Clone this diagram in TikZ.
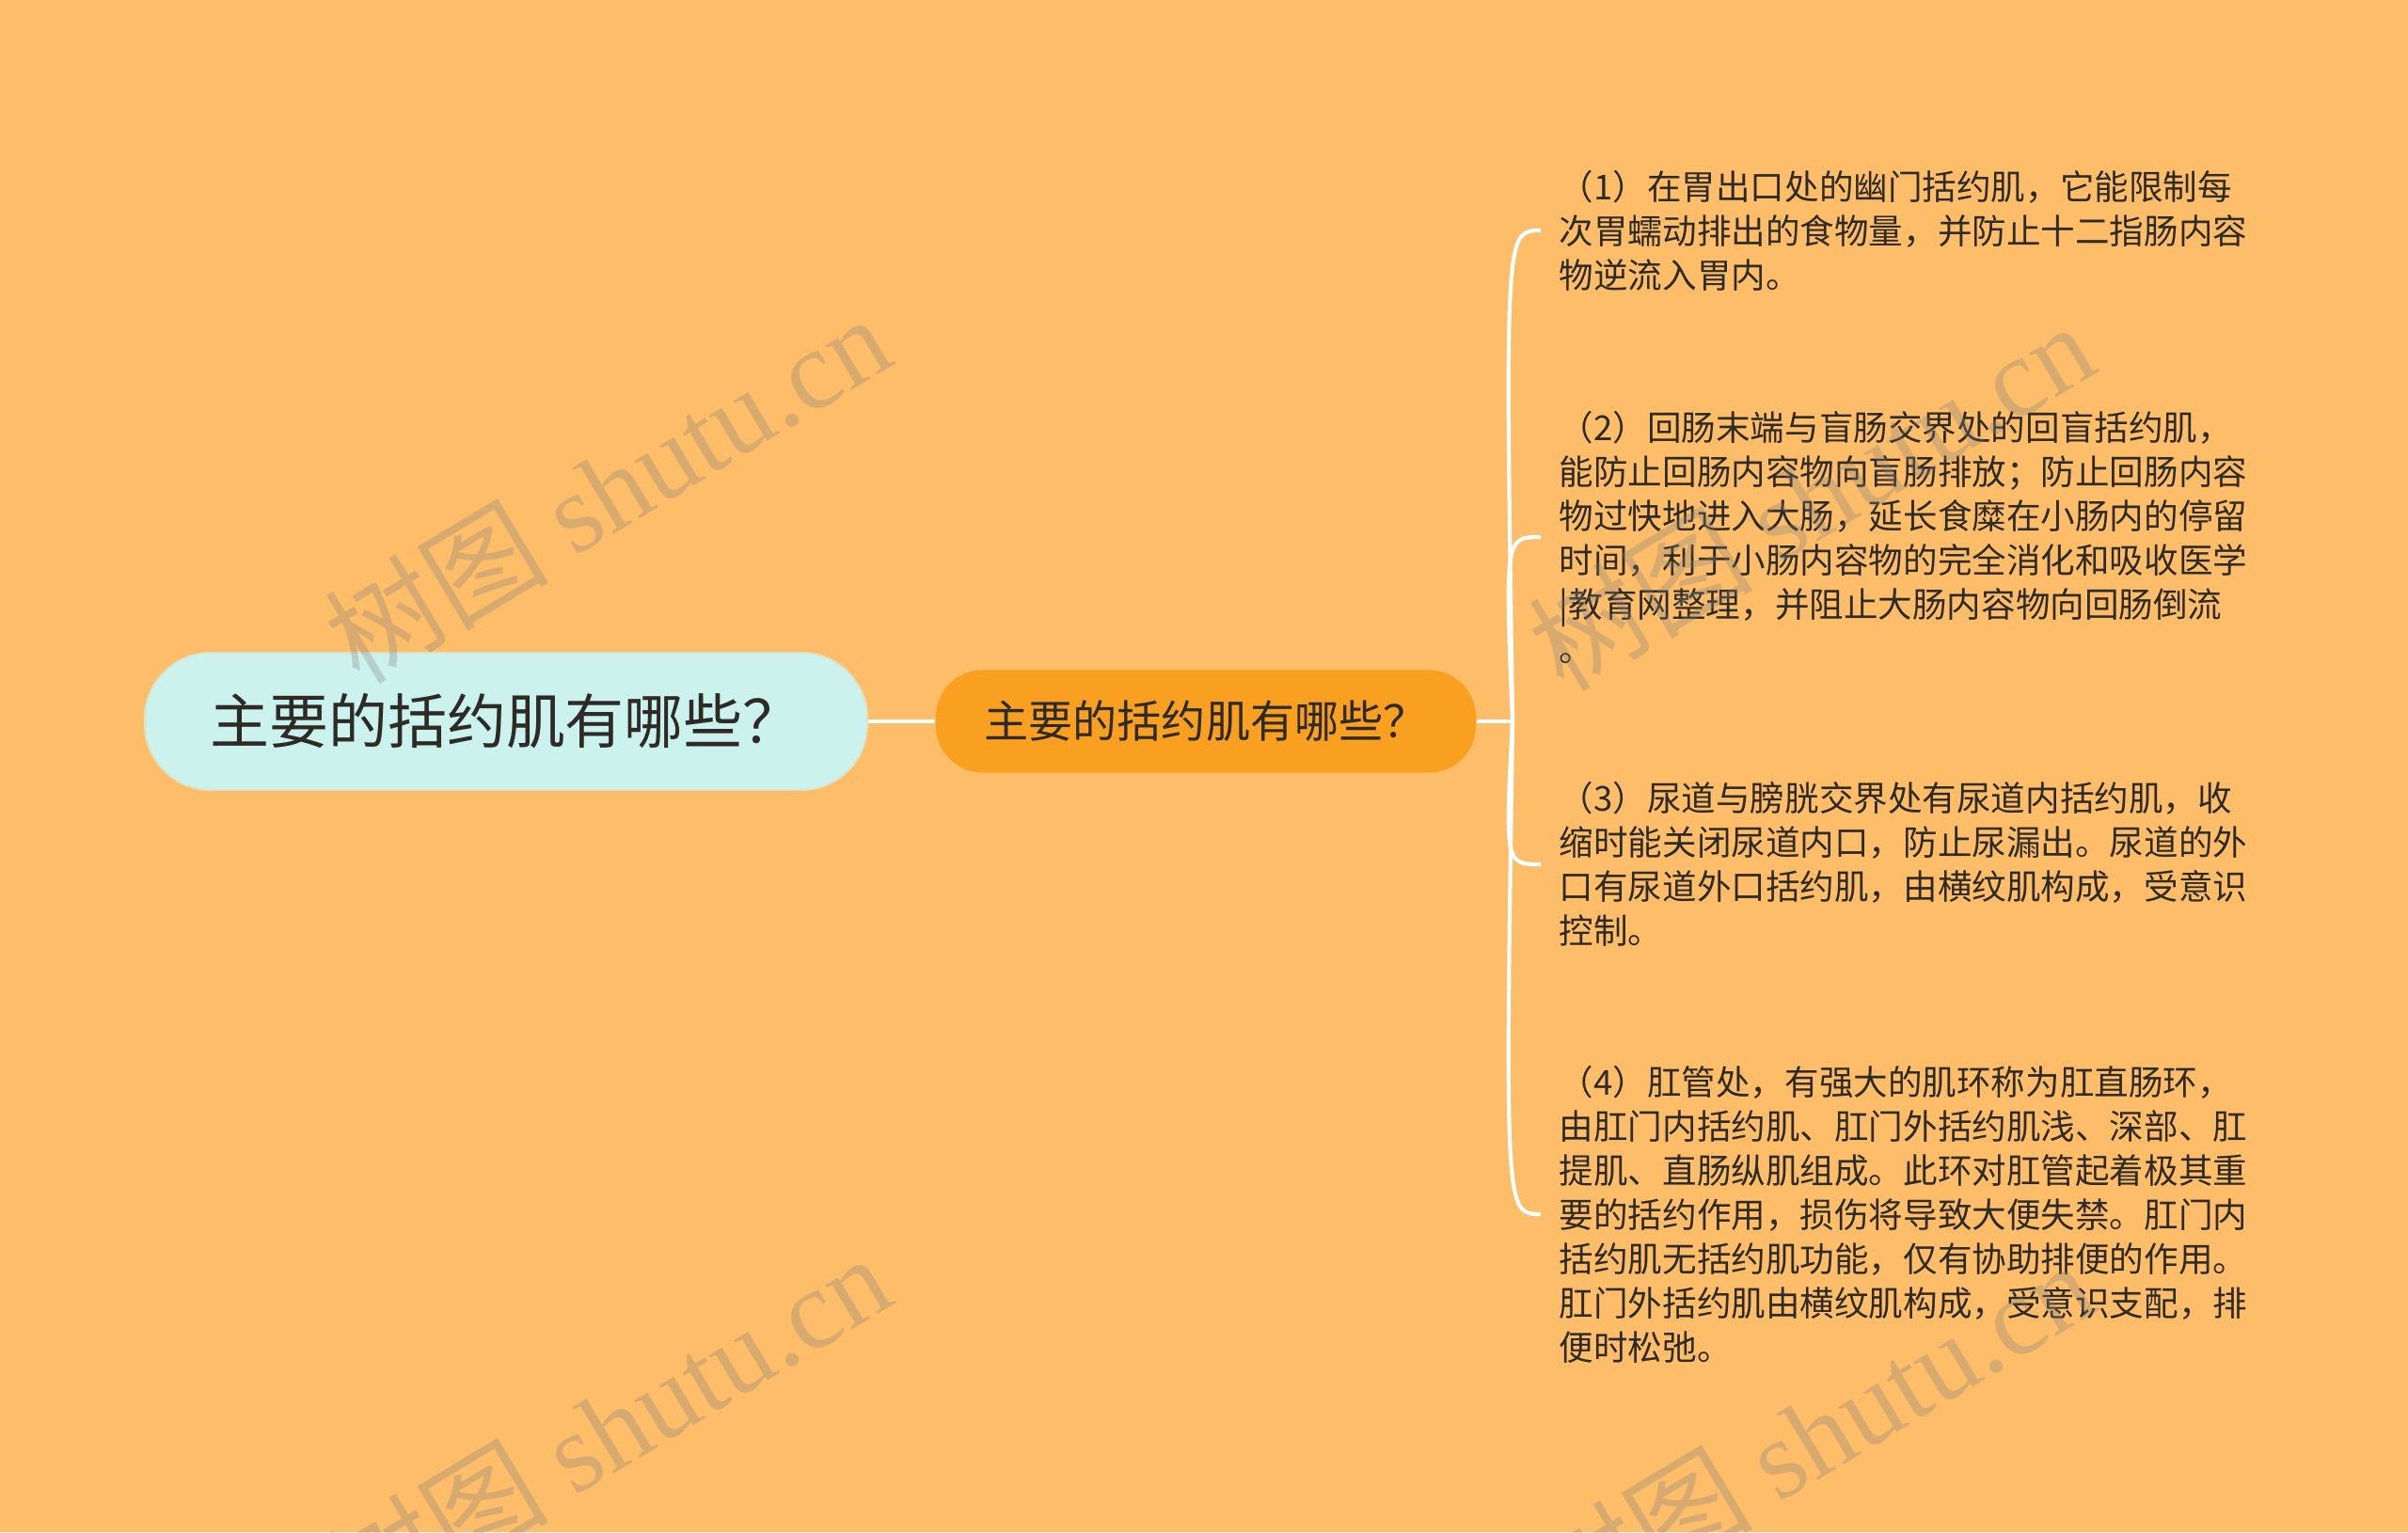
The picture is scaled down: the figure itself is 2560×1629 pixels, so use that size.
\documentclass[tikz,border=0pt]{standalone}
\usepackage{fontspec}
\setmainfont{Noto Sans CJK SC}
\newfontfamily\wmfont{Liberation Serif}
\usepackage{tikz}
\usetikzlibrary{positioning}
\definecolor{bgcol}{HTML}{FEBE69}
\definecolor{rootcol}{HTML}{CCF2EE}
\definecolor{subcol}{HTML}{FAA020}
\definecolor{txtcol}{HTML}{2E2A25}

\begin{document}
\begin{tikzpicture}[x=0.01cm,y=-0.01cm,
    root node/.style={rounded corners=0.7cm,fill=rootcol,draw=rootcol!70!bgcol,line width=0.5pt,minimum width=7.68cm,minimum height=1.46cm,text=txtcol,font=\fontsize{17.9pt}{20pt}\selectfont},
    sub node/.style={rounded corners=0.5cm,fill=subcol,minimum width=5.74cm,minimum height=1.09cm,text=txtcol,font=\fontsize{13.4pt}{16pt}\selectfont},
    leaf node/.style={anchor=west,align=left,inner xsep=0.19cm,inner ysep=0pt,text=txtcol,font=\fontsize{10.4pt}{13.37pt}\selectfont},
    branch/.style={draw=white,line width=1.2pt},
    wmark/.style={rotate=31,text=black!50,opacity=0.3,font=\fontsize{34pt}{36pt}\selectfont}]
   \useasboundingbox (0,0) rectangle (2560,1629);
   \clip (0,0) rectangle (2560,1629);
   \fill[bgcol] (0,0) rectangle (2560,1629);
   \node[root node] (root) at (538,767) {主要的括约肌有哪些？};
   \node[sub node] (sub) at (1282,767) {主要的括约肌有哪些？};
   \coordinate (jn) at (1608,767);
   \coordinate (jc) at (1600,767);
   \node[leaf node] (l1) at (1638,245) {（1）在胃出口处的幽门括约肌，它能限制每\\次胃蠕动排出的食物量，并防止十二指肠内容\\物逆流入胃内。};
   \node[leaf node] (l2) at (1638,571) {（2）回肠末端与盲肠交界处的回盲括约肌，\\能防止回肠内容物向盲肠排放；防止回肠内容\\物过快地进入大肠，延长食糜在小肠内的停留\\时间，利于小肠内容物的完全消化和吸收医学\\|教育网整理，并阻止大肠内容物向回肠倒流\\。};
   \node[leaf node] (l3) at (1638,919) {（3）尿道与膀胱交界处有尿道内括约肌，收\\缩时能关闭尿道内口，防止尿漏出。尿道的外\\口有尿道外口括约肌，由横纹肌构成，受意识\\控制。};
   \node[leaf node] (l4) at (1638,1291) {（4）肛管处，有强大的肌环称为肛直肠环，\\由肛门内括约肌、肛门外括约肌浅、深部、肛\\提肌、直肠纵肌组成。此环对肛管起着极其重\\要的括约作用，损伤将导致大便失禁。肛门内\\括约肌无括约肌功能，仅有协助排便的作用。\\肛门外括约肌由横纹肌构成，受意识支配，排\\便时松弛。};
    \path[branch] (root) edge (sub);
    \path[branch] (sub) edge (jn);
    \draw[branch] (jn) .. controls (jc |- l1.west) .. (l1.west);
    \draw[branch] (jn) .. controls (jc |- l2.west) .. (l2.west);
    \draw[branch] (jn) .. controls (jc |- l3.west) .. (l3.west);
    \draw[branch] (jn) .. controls (jc |- l4.west) .. (l4.west);
    % watermarks
    \node[wmark] (wm1) at (645,519) {树图 {\wmfont shutu.cn}};
    \node[wmark] (wm2) at (1925,527) {树图 {\wmfont shutu.cn}};
    \node[wmark] (wm3) at (645,1518) {树图 {\wmfont shutu.cn}};
    \node[wmark] (wm4) at (1925,1525) {树图 {\wmfont shutu.cn}};
\end{tikzpicture}
\end{document}
